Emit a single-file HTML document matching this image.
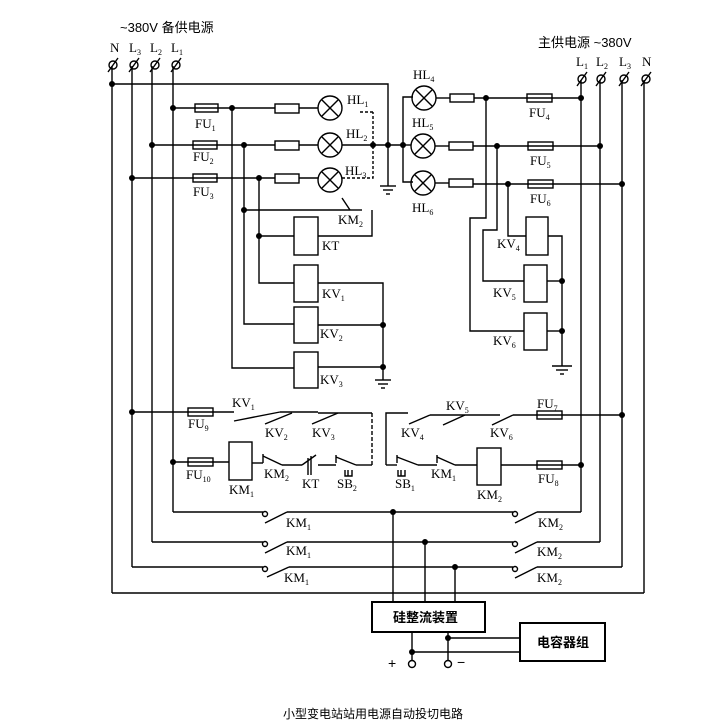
<!DOCTYPE html>
<html><head><meta charset="utf-8"><style>
html,body{margin:0;padding:0;background:#fff}
svg{display:block}
text{font-family:"Liberation Serif","Noto Serif CJK SC",serif;fill:#000}
.c{font-family:"Liberation Sans","Noto Sans CJK SC",sans-serif}
</style></head><body>
<svg width="722" height="725" viewBox="0 0 722 725" xmlns="http://www.w3.org/2000/svg">
<g stroke="#000" stroke-width="1.4" fill="none">
<line x1="112" y1="66" x2="112" y2="593"/>
<line x1="132" y1="66" x2="132" y2="567"/>
<line x1="152" y1="66" x2="152" y2="542"/>
<line x1="173" y1="66" x2="173" y2="512"/>
<line x1="581" y1="80" x2="581" y2="512"/>
<line x1="600" y1="80" x2="600" y2="542"/>
<line x1="622" y1="80" x2="622" y2="567"/>
<line x1="644" y1="80" x2="644" y2="593"/>
<g>
<circle cx="113" cy="65" r="4"/><line x1="108" y1="72" x2="118" y2="58"/>
<circle cx="134" cy="65" r="4"/><line x1="129" y1="72" x2="139" y2="58"/>
<circle cx="155" cy="65" r="4"/><line x1="150" y1="72" x2="160" y2="58"/>
<circle cx="176" cy="65" r="4"/><line x1="171" y1="72" x2="181" y2="58"/>
<circle cx="582" cy="79" r="4"/><line x1="577" y1="86" x2="587" y2="72"/>
<circle cx="601" cy="79" r="4"/><line x1="596" y1="86" x2="606" y2="72"/>
<circle cx="624" cy="79" r="4"/><line x1="619" y1="86" x2="629" y2="72"/>
<circle cx="646" cy="79" r="4"/><line x1="641" y1="86" x2="651" y2="72"/>
</g>
<polyline points="112,84 388,84 388,186"/>
<line x1="380" y1="186" x2="396" y2="186"/><line x1="383" y1="190" x2="393" y2="190"/><line x1="386" y1="194" x2="390" y2="194"/>
<line x1="173" y1="108" x2="275" y2="108"/>
<line x1="152" y1="145" x2="275" y2="145"/>
<line x1="132" y1="178" x2="275" y2="178"/>
<rect x="195" y="104" width="23" height="8"/>
<rect x="193" y="141" width="24" height="8"/>
<rect x="193" y="174" width="24" height="8"/>
<rect x="275" y="104" width="24" height="9"/><rect x="275" y="141" width="24" height="9"/><rect x="275" y="174" width="24" height="9"/>
<line x1="299" y1="108" x2="318" y2="108"/><line x1="299" y1="145" x2="318" y2="145"/><line x1="299" y1="178" x2="318" y2="178"/>
<g>
<circle cx="330" cy="108" r="12"/><line x1="322" y1="100" x2="338" y2="116"/><line x1="338" y1="100" x2="322" y2="116"/>
<circle cx="330" cy="145" r="12"/><line x1="322" y1="137" x2="338" y2="153"/><line x1="338" y1="137" x2="322" y2="153"/>
<circle cx="330" cy="180" r="12"/><line x1="322" y1="172" x2="338" y2="188"/><line x1="338" y1="172" x2="322" y2="188"/>
</g>
<line x1="342" y1="145" x2="403" y2="145"/>
<polyline points="342,178 373,178 373,112" stroke-dasharray="3,2"/>
<line x1="360" y1="112" x2="373" y2="112" stroke-dasharray="3,2"/>
<polyline points="403,145 403,97 413,97"/>
<polyline points="403,145 403,182 413,182"/>
<line x1="403" y1="145" x2="411" y2="145"/>
<polyline points="232,108 232,368 294,368"/>
<polyline points="244,145 244,324 294,324"/>
<polyline points="259,178 259,283 294,283"/>
<line x1="244" y1="210" x2="350" y2="210"/>
<line x1="350" y1="210" x2="342" y2="198"/><line x1="350" y1="210" x2="362" y2="210"/>
<polyline points="372,210 372,236 318,236"/>
<line x1="259" y1="236" x2="294" y2="236"/>
<rect x="294" y="217" width="24" height="38"/>
<rect x="294" y="265" width="24" height="37"/>
<rect x="294" y="307" width="24" height="36"/>
<rect x="294" y="352" width="24" height="36"/>
<polyline points="318,283 383,283 383,380"/>
<line x1="318" y1="325" x2="383" y2="325"/><line x1="318" y1="367" x2="383" y2="367"/>
<line x1="375" y1="380" x2="391" y2="380"/><line x1="378" y1="384" x2="388" y2="384"/><line x1="381" y1="388" x2="385" y2="388"/>
<g>
<circle cx="424" cy="98" r="12"/><line x1="416" y1="90" x2="432" y2="106"/><line x1="432" y1="90" x2="416" y2="106"/>
<circle cx="423" cy="146" r="12"/><line x1="415" y1="138" x2="431" y2="154"/><line x1="431" y1="138" x2="415" y2="154"/>
<circle cx="423" cy="183" r="12"/><line x1="415" y1="175" x2="431" y2="191"/><line x1="431" y1="175" x2="415" y2="191"/>
</g>
<line x1="436" y1="98" x2="450" y2="98"/><line x1="435" y1="146" x2="449" y2="146"/><line x1="435" y1="183" x2="449" y2="183"/>
<rect x="450" y="94" width="24" height="8"/><rect x="449" y="142" width="24" height="8"/><rect x="449" y="179" width="24" height="8"/>
<line x1="474" y1="98" x2="581" y2="98"/><line x1="473" y1="146" x2="600" y2="146"/><line x1="473" y1="184" x2="622" y2="184"/>
<rect x="527" y="94" width="25" height="8"/><rect x="528" y="142" width="25" height="8"/><rect x="528" y="180" width="25" height="8"/>
<polyline points="486,98 486,218 470,218 470,331 524,331"/>
<polyline points="497,146 497,230 483,230 483,281 524,281"/>
<polyline points="508,184 508,236 526,236"/>
<rect x="526" y="217" width="22" height="38"/>
<rect x="524" y="265" width="23" height="37"/>
<rect x="524" y="313" width="23" height="37"/>
<polyline points="548,236 562,236 562,366"/>
<line x1="547" y1="281" x2="562" y2="281"/><line x1="547" y1="331" x2="562" y2="331"/>
<line x1="552" y1="366" x2="572" y2="366"/><line x1="556" y1="370" x2="568" y2="370"/><line x1="560" y1="374" x2="564" y2="374"/>
<line x1="132" y1="412" x2="234" y2="412"/>
<rect x="188" y="408" width="25" height="8"/>
<line x1="234" y1="421" x2="280" y2="412"/>
<line x1="280" y1="412" x2="318" y2="412"/>
<line x1="265" y1="424" x2="292" y2="413"/>
<line x1="318" y1="413" x2="372" y2="413"/>
<line x1="312" y1="424" x2="338" y2="413"/>
<line x1="372" y1="413" x2="372" y2="465" stroke-dasharray="4,2"/>
<line x1="173" y1="462" x2="229" y2="462"/>
<rect x="188" y="458" width="25" height="8"/>
<rect x="229" y="442" width="23" height="38"/>
<line x1="252" y1="463" x2="263" y2="463"/>
<line x1="263" y1="454" x2="263" y2="463"/><line x1="263" y1="456" x2="282" y2="465"/>
<line x1="282" y1="465" x2="302" y2="465"/>
<line x1="302" y1="465" x2="316" y2="455"/>
<line x1="308" y1="458" x2="308" y2="475"/><line x1="311" y1="456" x2="311" y2="475"/>
<line x1="318" y1="465" x2="336" y2="465"/>
<line x1="336" y1="455" x2="336" y2="463"/><line x1="336" y1="457" x2="356" y2="465"/>
<line x1="356" y1="465" x2="372" y2="465"/>
<polyline points="345,470 345,476 352,476 352,470"/><line x1="348" y1="470" x2="348" y2="476"/>
<polyline points="386,465 386,413 408,413"/>
<line x1="409" y1="424" x2="430" y2="415"/>
<line x1="430" y1="415" x2="465" y2="415"/>
<line x1="443" y1="425" x2="465" y2="415"/>
<line x1="465" y1="415" x2="500" y2="415"/>
<line x1="492" y1="425" x2="513" y2="415"/>
<line x1="513" y1="415" x2="622" y2="415"/>
<rect x="537" y="411" width="25" height="8"/>
<line x1="386" y1="465" x2="397" y2="465"/>
<line x1="397" y1="455" x2="397" y2="463"/><line x1="397" y1="457" x2="418" y2="465"/>
<line x1="418" y1="465" x2="437" y2="465"/>
<line x1="437" y1="455" x2="437" y2="463"/><line x1="437" y1="457" x2="455" y2="465"/>
<line x1="455" y1="465" x2="477" y2="465"/>
<polyline points="398,470 398,476 405,476 405,470"/><line x1="401" y1="470" x2="401" y2="476"/>
<rect x="477" y="448" width="24" height="37"/>
<line x1="501" y1="465" x2="581" y2="465"/>
<rect x="537" y="461" width="25" height="8"/>
<line x1="173" y1="512" x2="263" y2="512"/><circle cx="265" cy="514" r="2.5"/>
<line x1="265" y1="523" x2="287" y2="512"/><line x1="287" y1="512" x2="513" y2="512"/>
<circle cx="515" cy="514" r="2.5"/><line x1="515" y1="523" x2="537" y2="512"/><line x1="537" y1="512" x2="581" y2="512"/>
<line x1="152" y1="542" x2="263" y2="542"/><circle cx="265" cy="544" r="2.5"/>
<line x1="265" y1="553" x2="287" y2="542"/><line x1="287" y1="542" x2="513" y2="542"/>
<circle cx="515" cy="544" r="2.5"/><line x1="515" y1="553" x2="537" y2="542"/><line x1="537" y1="542" x2="600" y2="542"/>
<line x1="132" y1="567" x2="263" y2="567"/><circle cx="265" cy="569" r="2.5"/>
<line x1="267" y1="577" x2="289" y2="567"/><line x1="289" y1="567" x2="513" y2="567"/>
<circle cx="515" cy="569" r="2.5"/><line x1="515" y1="578" x2="537" y2="567"/><line x1="537" y1="567" x2="622" y2="567"/>
<line x1="112" y1="593" x2="644" y2="593"/>
<line x1="393" y1="512" x2="393" y2="602"/>
<line x1="425" y1="542" x2="425" y2="602"/>
<line x1="455" y1="567" x2="455" y2="602"/>
<rect x="372" y="602" width="113" height="30" stroke-width="2"/>
<rect x="520" y="623" width="85" height="38" stroke-width="2"/>
<line x1="412" y1="632" x2="412" y2="660"/>
<line x1="448" y1="632" x2="448" y2="660"/>
<line x1="448" y1="638" x2="520" y2="638"/>
<line x1="412" y1="652" x2="520" y2="652"/>
<circle cx="412" cy="664" r="3.5" fill="#fff"/>
<circle cx="448" cy="664" r="3.5" fill="#fff"/>
</g>
<g fill="#000">
<circle cx="112" cy="84" r="3"/><circle cx="173" cy="108" r="3"/><circle cx="152" cy="145" r="3"/><circle cx="132" cy="178" r="3"/>
<circle cx="232" cy="108" r="3"/><circle cx="244" cy="145" r="3"/><circle cx="259" cy="178" r="3"/>
<circle cx="373" cy="145" r="3"/><circle cx="388" cy="145" r="3"/><circle cx="403" cy="145" r="3"/>
<circle cx="244" cy="210" r="3"/><circle cx="259" cy="236" r="3"/><circle cx="383" cy="325" r="3"/><circle cx="383" cy="367" r="3"/>
<circle cx="486" cy="98" r="3"/><circle cx="497" cy="146" r="3"/><circle cx="508" cy="184" r="3"/>
<circle cx="581" cy="98" r="3"/><circle cx="600" cy="146" r="3"/><circle cx="622" cy="184" r="3"/>
<circle cx="562" cy="281" r="3"/><circle cx="562" cy="331" r="3"/>
<circle cx="132" cy="412" r="3"/><circle cx="173" cy="462" r="3"/><circle cx="622" cy="415" r="3"/><circle cx="581" cy="465" r="3"/>
<circle cx="393" cy="512" r="3"/><circle cx="425" cy="542" r="3"/><circle cx="455" cy="567" r="3"/>
<circle cx="448" cy="638" r="3"/><circle cx="412" cy="652" r="3"/>
</g>
<g font-size="13">
<text x="120" y="32" class="c" font-size="13">~380V 备供电源</text>
<text x="110" y="52">N</text><text x="129" y="52">L<tspan font-size="8" dy="3">3</tspan></text><text x="150" y="52">L<tspan font-size="8" dy="3">2</tspan></text><text x="171" y="52">L<tspan font-size="8" dy="3">1</tspan></text>
<text x="538" y="47" class="c">主供电源 ~380V</text>
<text x="576" y="66">L<tspan font-size="8" dy="3">1</tspan></text><text x="596" y="66">L<tspan font-size="8" dy="3">2</tspan></text><text x="619" y="66">L<tspan font-size="8" dy="3">3</tspan></text><text x="642" y="66">N</text>
<text x="195" y="128">FU<tspan font-size="8" dy="3">1</tspan></text>
<text x="193" y="161">FU<tspan font-size="8" dy="3">2</tspan></text>
<text x="193" y="196">FU<tspan font-size="8" dy="3">3</tspan></text>
<text x="347" y="104">HL<tspan font-size="8" dy="3">1</tspan></text>
<text x="346" y="138">HL<tspan font-size="8" dy="3">2</tspan></text>
<text x="345" y="175">HL<tspan font-size="8" dy="3">3</tspan></text>
<text x="413" y="79">HL<tspan font-size="8" dy="3">4</tspan></text>
<text x="412" y="127">HL<tspan font-size="8" dy="3">5</tspan></text>
<text x="412" y="212">HL<tspan font-size="8" dy="3">6</tspan></text>
<text x="529" y="117">FU<tspan font-size="8" dy="3">4</tspan></text>
<text x="530" y="165">FU<tspan font-size="8" dy="3">5</tspan></text>
<text x="530" y="203">FU<tspan font-size="8" dy="3">6</tspan></text>
<text x="338" y="224">KM<tspan font-size="8" dy="3">2</tspan></text>
<text x="322" y="250">KT</text>
<text x="322" y="298">KV<tspan font-size="8" dy="3">1</tspan></text>
<text x="320" y="338">KV<tspan font-size="8" dy="3">2</tspan></text>
<text x="320" y="384">KV<tspan font-size="8" dy="3">3</tspan></text>
<text x="497" y="248">KV<tspan font-size="8" dy="3">4</tspan></text>
<text x="493" y="297">KV<tspan font-size="8" dy="3">5</tspan></text>
<text x="493" y="345">KV<tspan font-size="8" dy="3">6</tspan></text>
<text x="232" y="407">KV<tspan font-size="8" dy="3">1</tspan></text>
<text x="188" y="428">FU<tspan font-size="8" dy="3">9</tspan></text>
<text x="265" y="437">KV<tspan font-size="8" dy="3">2</tspan></text>
<text x="312" y="437">KV<tspan font-size="8" dy="3">3</tspan></text>
<text x="186" y="479">FU<tspan font-size="8" dy="3">10</tspan></text>
<text x="229" y="494">KM<tspan font-size="8" dy="3">1</tspan></text>
<text x="264" y="478">KM<tspan font-size="8" dy="3">2</tspan></text>
<text x="302" y="488">KT</text>
<text x="337" y="488">SB<tspan font-size="8" dy="3">2</tspan></text>
<text x="446" y="410">KV<tspan font-size="8" dy="3">5</tspan></text>
<text x="401" y="437">KV<tspan font-size="8" dy="3">4</tspan></text>
<text x="490" y="437">KV<tspan font-size="8" dy="3">6</tspan></text>
<text x="537" y="408">FU<tspan font-size="8" dy="3">7</tspan></text>
<text x="395" y="488">SB<tspan font-size="8" dy="3">1</tspan></text>
<text x="431" y="478">KM<tspan font-size="8" dy="3">1</tspan></text>
<text x="477" y="499">KM<tspan font-size="8" dy="3">2</tspan></text>
<text x="538" y="483">FU<tspan font-size="8" dy="3">8</tspan></text>
<text x="286" y="527">KM<tspan font-size="8" dy="3">1</tspan></text>
<text x="286" y="555">KM<tspan font-size="8" dy="3">1</tspan></text>
<text x="284" y="582">KM<tspan font-size="8" dy="3">1</tspan></text>
<text x="538" y="527">KM<tspan font-size="8" dy="3">2</tspan></text>
<text x="537" y="556">KM<tspan font-size="8" dy="3">2</tspan></text>
<text x="537" y="582">KM<tspan font-size="8" dy="3">2</tspan></text>
<text x="393" y="622" class="c" font-size="13" font-weight="bold">硅整流装置</text>
<text x="537" y="647" class="c" font-size="13" font-weight="bold">电容器组</text>
<text x="388" y="668" class="c" font-size="14">+</text>
<text x="457" y="667" class="c" font-size="14">−</text>
<text x="283" y="718" class="c" font-size="12">小型变电站站用电源自动投切电路</text>
</g>
</svg>
</body></html>
